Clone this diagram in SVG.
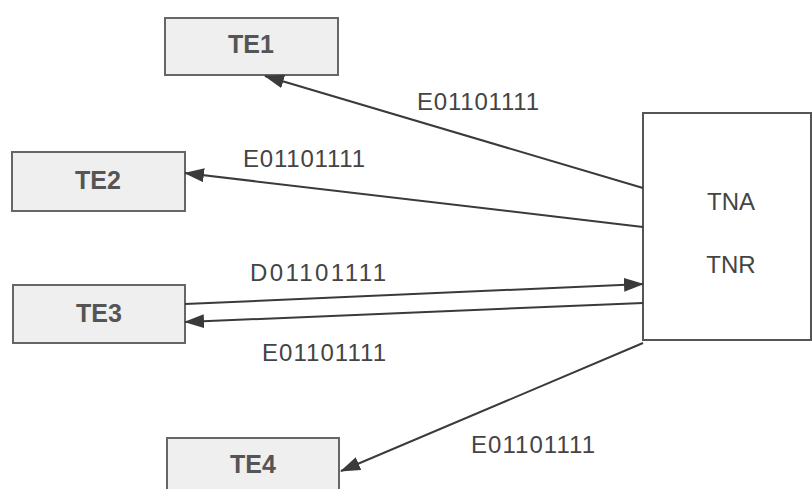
<svg xmlns="http://www.w3.org/2000/svg" width="812" height="489" viewBox="0 0 812 489">
<defs>
<marker id="ah" markerWidth="20" markerHeight="14" refX="19" refY="7" orient="auto" markerUnits="userSpaceOnUse">
<path d="M0,0 L20,7 L0,14 Z" fill="#3a3a3a"/>
</marker>
<style>
.te rect{fill:#efefef;stroke:#666;stroke-width:2}
.te text{font-family:"Liberation Sans",Arial,sans-serif;font-size:25px;font-weight:bold;fill:#555;text-anchor:middle}
.lbl{font-family:"Liberation Sans",Arial,sans-serif;font-size:24px;fill:#444}
.c line{stroke:#3a3a3a;stroke-width:2;marker-end:url(#ah)}
</style>
</defs>
<rect width="812" height="489" fill="#fff"/>
<g id="TE1" class="te"><rect x="165" y="18" width="173" height="57"/><text x="251" y="53">TE1</text></g>
<g id="TE2" class="te"><rect x="12" y="152" width="173" height="59"/><text x="98" y="189">TE2</text></g>
<g id="TE3" class="te"><rect x="13" y="285" width="172" height="58"/><text x="99" y="322">TE3</text></g>
<g id="TE4" class="te"><rect x="167" y="438" width="172" height="60"/><text x="253" y="473">TE4</text></g>
<g id="TNA"><rect x="643" y="113" width="168" height="227" fill="#fff" stroke="#555" stroke-width="2"/>
<text x="731" y="210" class="lbl" text-anchor="middle" font-size="26">TNA</text>
<text x="731" y="273" class="lbl" text-anchor="middle" font-size="26">TNR</text></g>
<g id="connectors" class="c">
<line x1="643" y1="188" x2="265" y2="76"/>
<line x1="643" y1="227" x2="185" y2="173"/>
<line x1="185" y1="304" x2="643" y2="284"/>
<line x1="643" y1="303" x2="185" y2="322"/>
<line x1="643" y1="343" x2="341" y2="471"/>
</g>
<g id="labels">
<text class="lbl" x="417" y="110" textLength="122">E01101111</text>
<text class="lbl" x="243" y="167" textLength="122">E01101111</text>
<text class="lbl" x="250" y="281" textLength="136">D01101111</text>
<text class="lbl" x="262" y="361" textLength="124">E01101111</text>
<text class="lbl" x="471" y="453" textLength="124">E01101111</text>
</g>
</svg>
